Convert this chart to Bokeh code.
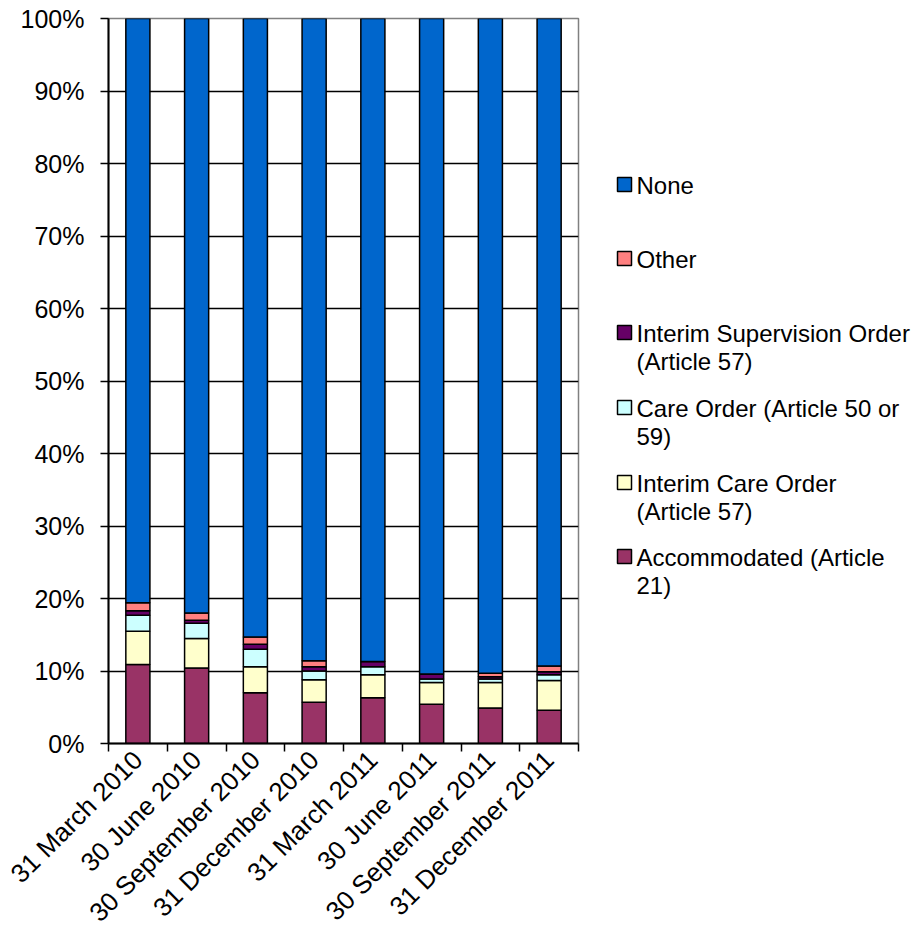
import math
from bokeh.plotting import figure
from bokeh.models import FixedTicker, ColumnDataSource, Range1d
from bokeh.layouts import row
from bokeh.embed import file_html
from bokeh.resources import INLINE
from bokeh.core.properties import value

dates = ["31 March 2010", "30 June 2010", "30 September 2010", "31 December 2010",
         "31 March 2011", "30 June 2011", "30 September 2011", "31 December 2011"]
accommodated = [10.9, 10.4, 7.0, 5.7, 6.3, 5.4, 4.9, 4.6]
interim_care = [4.6, 4.1, 3.6, 3.1, 3.2, 3.0, 3.5, 4.1]
care_order = [2.2, 2.1, 2.4, 1.2, 1.1, 0.5, 0.5, 0.8]
interim_sup = [0.6, 0.4, 0.7, 0.6, 0.7, 0.7, 0.3, 0.4]
other = [1.1, 1.0, 1.0, 0.8, 0.0, 0.0, 0.5, 0.8]
none = [80.6, 82.0, 85.3, 88.6, 88.7, 90.4, 90.3, 89.3]

series_values = [accommodated, interim_care, care_order, interim_sup, other, none]
colors = ["#993366", "#FFFFCC", "#CCFFFF", "#660066", "#FF8080", "#0066CC"]
legend_labels = [
    ["Accommodated (Article", "21)"],
    ["Interim Care Order", "(Article 57)"],
    ["Care Order  (Article 50 or", "59)"],
    ["Interim Supervision Order", "(Article 57)"],
    ["Other"],
    ["None"],
]

y_ticks = list(range(0, 101, 10))
y_labels = {t: f"{t}%" for t in y_ticks}

FONT = "Liberation Sans"
FS = "24px"

xs = list(range(1, len(dates) + 1))
data = {"x": xs}
for i, v in enumerate(series_values):
    data[f"s{i}"] = v
src = ColumnDataSource(data)

FRAME_L, FRAME_T, FRAME_R, FRAME_B = 108, 18, 578, 743
W_MAIN, W_LEG, H = 600, 315, 941

p = figure(width=W_MAIN, height=H, output_backend="svg", toolbar_location=None,
           x_range=Range1d(0.5, len(dates) + 0.5), y_range=Range1d(0, 100),
           min_border_left=FRAME_L, min_border_right=W_MAIN - FRAME_R,
           min_border_top=FRAME_T, min_border_bottom=H - FRAME_B)
p.vbar_stack([f"s{i}" for i in range(6)], x="x", width=0.41, source=src,
             fill_color=colors, line_color="black", line_width=1.5)

p.outline_line_color = "#808080"
p.outline_line_width = 1.5
p.background_fill_color = "white"
p.border_fill_color = "white"

p.xgrid.visible = False
p.ygrid.ticker = FixedTicker(ticks=y_ticks)
p.ygrid.grid_line_color = "#000000"
p.ygrid.grid_line_width = 1.5

p.yaxis.ticker = FixedTicker(ticks=y_ticks)
p.yaxis.major_label_overrides = y_labels
p.yaxis.major_label_text_font = FONT
p.yaxis.major_label_text_font_size = "25px"
p.yaxis.major_label_text_color = "black"
p.yaxis.axis_line_width = 2
p.yaxis.axis_line_color = "black"
p.yaxis.major_tick_out = 8
p.yaxis.major_tick_in = 0
p.yaxis.major_tick_line_width = 1.5
p.yaxis.minor_tick_line_color = None
p.yaxis.major_label_standoff = 16

p.xaxis.ticker = FixedTicker(ticks=xs, minor_ticks=[x - 0.5 for x in xs] + [len(xs) + 0.5])
p.xaxis.major_label_overrides = {x: d for x, d in zip(xs, dates)}
p.xaxis.major_label_orientation = math.pi / 4
p.xaxis.major_label_text_font = FONT
p.xaxis.major_label_text_font_size = "26px"
p.xaxis.major_label_text_color = "black"
p.xaxis.major_tick_line_color = None
p.xaxis.minor_tick_out = 8
p.xaxis.minor_tick_in = 0
p.xaxis.minor_tick_line_width = 1.5
p.xaxis.minor_tick_line_color = "black"
p.xaxis.axis_line_width = 2
p.xaxis.axis_line_color = "black"
p.xaxis.major_label_standoff = 4

# Legend figure: its frame is aligned with the main frame by the row layout;
# ranges are set in page-pixel units so positions match the reference.
lg = figure(width=W_LEG, height=H, output_backend="svg", toolbar_location=None,
            x_range=Range1d(W_MAIN, W_MAIN + W_LEG), y_range=Range1d(FRAME_B, FRAME_T),
            min_border_left=0, min_border_right=0,
            min_border_top=FRAME_T, min_border_bottom=H - FRAME_B,
            outline_line_color=None)
lg.axis.visible = False
lg.grid.visible = False

legend_order = [5, 4, 3, 2, 1, 0]
row_page_y = [185, 259, 333, 408, 483, 557]
line_h = 28
sq_cx, sq_size, text_x = 624, 14, 636
sq_x, sq_y, sq_c, tx, ty, tt = [], [], [], [], [], []
for k, idx in enumerate(legend_order):
    sq_x.append(sq_cx)
    sq_y.append(row_page_y[k] - 1)
    sq_c.append(colors[idx])
    for j, line in enumerate(legend_labels[idx]):
        tx.append(text_x)
        ty.append(row_page_y[k] + j * line_h)
        tt.append(line)
lg.scatter(x=sq_x, y=sq_y, size=sq_size, marker="square", fill_color=sq_c,
           line_color="black", line_width=1.5)
lg.text(x=tx, y=ty, text=tt, text_font=value(FONT), text_font_size=FS,
        text_baseline="middle", text_align="left", text_color="black")

layout = row(p, lg)
open("out.html", "w").write(file_html(layout, INLINE))
